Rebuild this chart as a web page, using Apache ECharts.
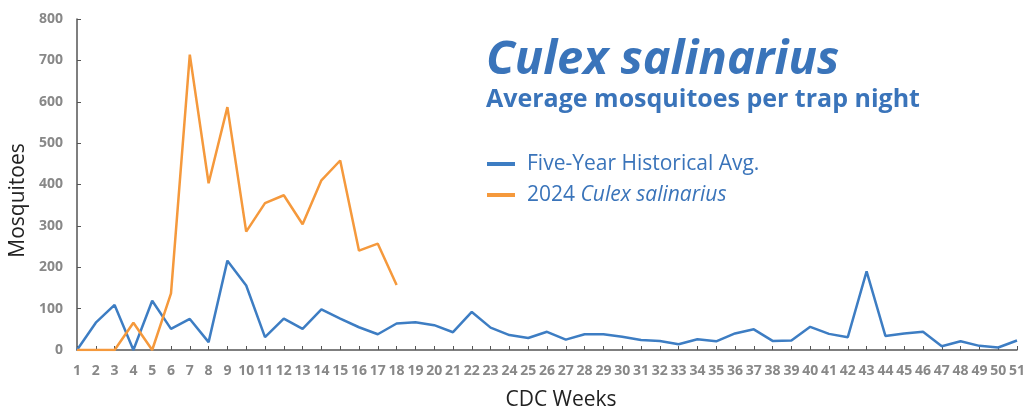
<!DOCTYPE html>
<html>
<head>
<meta charset="utf-8">
<script src="https://cdn.jsdelivr.net/npm/echarts@6/dist/echarts.min.js"></script>
<style>html,body{margin:0;padding:0;background:#fff;}#c{width:1029px;height:409px;}</style>
</head>
<body>
<div id="c"></div>
<script>
var weeks = [];
for (var w = 1; w <= 51; w++) weeks.push(String(w));
var historicalAvg = [0, 66, 109, 0, 119, 51, 75, 19, 216, 156, 31, 76, 51, 98, 76, 55, 38, 64, 67, 60, 43, 92, 54, 36, 29, 44, 25, 38, 38, 32, 24, 22, 14, 26, 21, 40, 50, 22, 23, 56, 39, 31, 190, 34, 40, 44, 9, 21, 10, 6, 23];
var salinarius2024 = [0, 0, 0, 66, 0, 137, 714, 403, 587, 286, 355, 374, 304, 410, 458, 240, 257, 157];
var yTicks = { min: 0, max: 800, interval: 100 };
var seriesNames = ['Five-Year Historical Avg.', '2024 Culex salinarius'];

var chart = echarts.init(document.getElementById('c'), null, { renderer: 'canvas' });
var blue = '#3d7dc3';
var orange = '#f5993c';
var textBlue = '#3a74ba';
chart.setOption({
  animation: false,
  backgroundColor: '#ffffff',
  title: {
    text: 'Culex salinarius',
    subtext: 'Average mosquitoes per trap night',
    left: 481,
    top: 32,
    itemGap: 3,
    textStyle: { fontFamily: 'Open Sans', fontSize: 47, fontWeight: 'bold', fontStyle: 'italic', color: textBlue },
    subtextStyle: { fontFamily: 'Open Sans', fontSize: 25, fontWeight: 'bold', color: textBlue }
  },
  legend: {
    orient: 'vertical',
    left: 482,
    top: 147,
    itemWidth: 28,
    itemHeight: 4,
    itemGap: 7,
    icon: 'rect',
    data: seriesNames,
    formatter: function (name) {
      if (name === seriesNames[1]) return '2024 {i|Culex salinarius}';
      return name;
    },
    textStyle: {
      fontFamily: 'Open Sans', fontSize: 21, color: textBlue, lineHeight: 24, padding: [0, 0, 0, 7],
      rich: { i: { fontFamily: 'Open Sans', fontSize: 21, fontStyle: 'italic', color: textBlue, lineHeight: 24 } }
    }
  },
  grid: { left: 77, right: 12, top: 19, bottom: 59, outerBoundsMode: 'none', containLabel: false },
  xAxis: {
    type: 'category',
    data: weeks,
    boundaryGap: false,
    name: 'CDC Weeks',
    nameLocation: 'middle',
    nameGap: 40,
    nameTextStyle: { fontFamily: 'Open Sans', fontSize: 21, color: '#222', padding: [0, 0, 0, 28] },
    axisLine: { lineStyle: { color: '#555', width: 1.5 } },
    axisTick: { inside: true, length: 4, interval: 0, lineStyle: { color: '#555' } },
    axisLabel: { interval: 0, margin: 14, fontFamily: 'Open Sans', fontWeight: 'bold', fontSize: 14, color: '#888' },
    splitLine: { show: false }
  },
  yAxis: {
    type: 'value',
    min: yTicks.min,
    max: yTicks.max,
    interval: yTicks.interval,
    name: 'Mosquitoes',
    nameLocation: 'middle',
    nameGap: 46,
    nameTextStyle: { fontFamily: 'Open Sans', fontSize: 21, color: '#222', padding: [0, 32, 0, 0] },
    axisLine: { show: true, lineStyle: { color: '#555', width: 1.5 } },
    axisTick: { show: true, inside: true, length: 4, lineStyle: { color: '#555' } },
    axisLabel: { margin: 14, fontFamily: 'Open Sans', fontWeight: 'bold', fontSize: 14, color: '#888' },
    splitLine: { show: false }
  },
  series: [
    { name: seriesNames[0], type: 'line', data: historicalAvg, showSymbol: false, symbol: 'none', lineStyle: { color: blue, width: 2.5 }, itemStyle: { color: blue } },
    { name: seriesNames[1], type: 'line', data: salinarius2024, showSymbol: false, symbol: 'none', lineStyle: { color: orange, width: 2.5 }, itemStyle: { color: orange } }
  ]
});
</script>
</body>
</html>
